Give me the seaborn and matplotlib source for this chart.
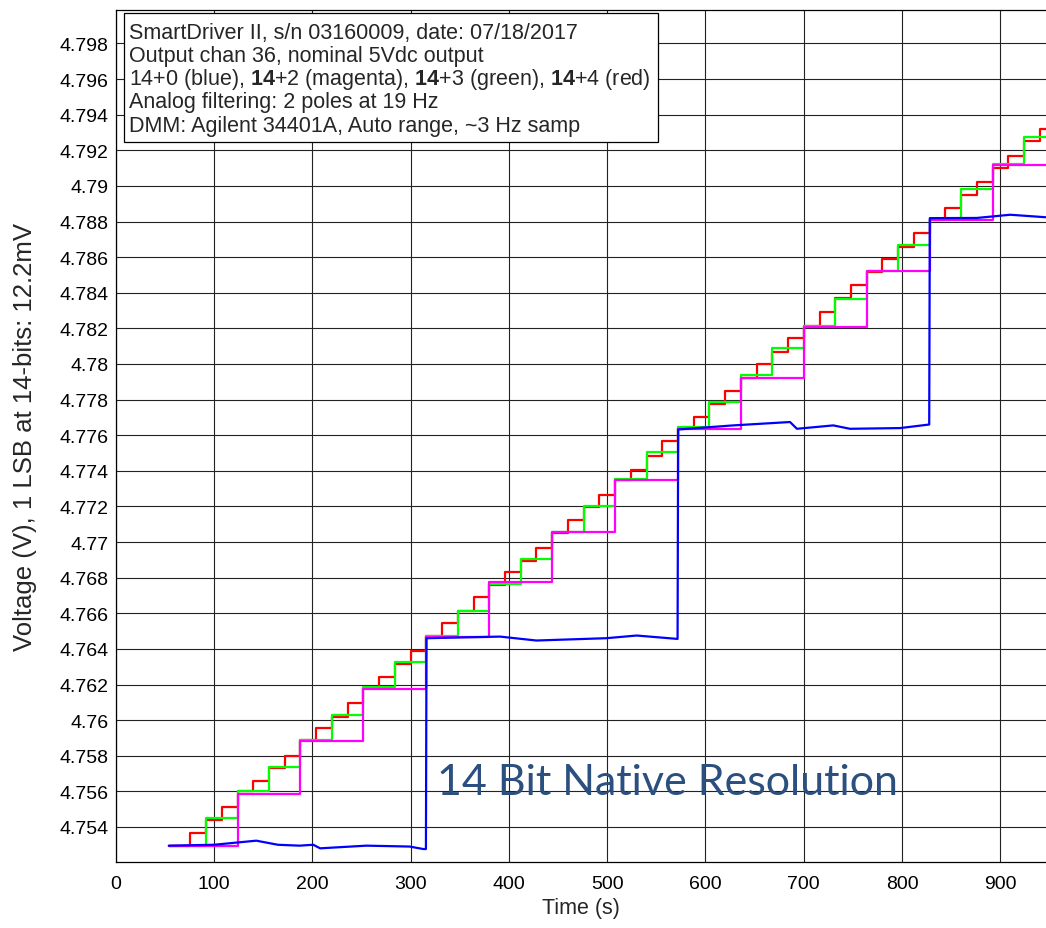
import numpy as np
import pandas as pd
import matplotlib
matplotlib.use("Agg")
import matplotlib.pyplot as plt
from matplotlib.patches import Rectangle
from matplotlib.ticker import FuncFormatter, MultipleLocator
import seaborn as sns

# step times / levels (s, V)
red_t = [54, 76, 92, 108, 124, 140, 156, 172, 188, 204, 220, 236, 252, 268, 284, 300,
         316, 332, 348, 364, 380, 396, 412, 428, 444, 460, 476, 492, 508, 524, 540, 556,
         572, 588, 604, 620, 636, 652, 668, 684, 700, 716, 732, 748, 764, 780, 796, 812,
         828, 844, 860, 876, 892, 908, 924, 940, 946]
red_v = [4.75295, 4.75366, 4.7544, 4.7551, 4.7560, 4.7566, 4.7573, 4.7580, 4.7589, 4.75956,
         4.7602, 4.76095, 4.7618, 4.76244, 4.76316, 4.7639, 4.7647, 4.76546, 4.7661, 4.7669,
         4.76756, 4.76834, 4.76896, 4.76967, 4.77052, 4.77125, 4.77196, 4.77265, 4.77346,
         4.77407, 4.77486, 4.77565, 4.7764, 4.77702, 4.77776, 4.77851, 4.7792, 4.78001,
         4.78067, 4.78146, 4.78216, 4.7829, 4.7837, 4.78441, 4.78516, 4.78591, 4.78657,
         4.78735, 4.7881, 4.78876, 4.7895, 4.79022, 4.791, 4.79168, 4.7925, 4.79321, 4.79321]

green_t = [54, 92, 124, 156, 188, 220, 252, 284, 316, 348, 380, 412, 444, 476, 508, 540,
           572, 604, 636, 668, 700, 732, 764, 796, 828, 860, 892, 924, 946]
green_v = [4.75295, 4.7545, 4.7560, 4.75735, 4.75889, 4.76029, 4.76185, 4.76325, 4.76475,
           4.76615, 4.76765, 4.76906, 4.77059, 4.77205, 4.77355, 4.77505, 4.77645, 4.77786,
           4.77939, 4.78089, 4.78216, 4.78366, 4.7852, 4.7867, 4.78816, 4.7898, 4.79125,
           4.79275, 4.79275]

mag_t = [54, 124, 188, 252, 316, 380, 444, 508, 572, 636, 700, 764, 828, 892, 946]
mag_v = [4.75295, 4.75585, 4.75881, 4.76175, 4.76466, 4.76775, 4.77056, 4.77346, 4.77636,
         4.77921, 4.78207, 4.7852, 4.78806, 4.79115, 4.79115]

blue_t = [54, 100, 143, 165, 187, 201, 208, 255, 299, 313, 315.6, 316.2, 391, 428, 499, 530,
          571.6, 572.2, 628, 686, 693, 730, 747, 798, 827.6, 828.2, 876, 910, 946]
blue_v = [4.75295, 4.7530, 4.75323, 4.7530, 4.75295, 4.7530, 4.7528, 4.75295, 4.7529,
          4.75276, 4.75276, 4.7646, 4.76469, 4.76447, 4.7646, 4.76475, 4.76456, 4.77632,
          4.77655, 4.77674, 4.77636, 4.77655, 4.77636, 4.7764, 4.7766, 4.78819, 4.7882,
          4.78838, 4.78824]

info_lines = [
    "SmartDriver II, s/n 03160009, date: 07/18/2017",
    "Output chan 36, nominal 5Vdc output",
    r"14+0 (blue), $\mathbf{14}$+2 (magenta), $\mathbf{14}$+3 (green), $\mathbf{14}$+4 (red)",
    "Analog filtering: 2 poles at 19 Hz",
    "DMM: Agilent 34401A, Auto range, ~3 Hz samp",
]

sns.set_style("white")
plt.rcParams["font.family"] = ["Liberation Sans", "DejaVu Sans"]
plt.rcParams["mathtext.fontset"] = "custom"
plt.rcParams["mathtext.rm"] = "Liberation Sans"
plt.rcParams["mathtext.bf"] = "Liberation Sans:bold"

fig = plt.figure(figsize=(10.46, 9.29), dpi=100)
ax = fig.add_axes([0.1106, 0.071, 0.8894, 0.9172])

# red underneath, blue on top
sns.lineplot(x=red_t, y=red_v, ax=ax, color="#ff0000", lw=1.6,
             drawstyle="steps-post", estimator=None, zorder=3)
sns.lineplot(x=green_t, y=green_v, ax=ax, color="#00ff00", lw=1.6,
             drawstyle="steps-post", estimator=None, zorder=4)
sns.lineplot(x=mag_t, y=mag_v, ax=ax, color="#ff00ff", lw=1.6,
             drawstyle="steps-post", estimator=None, zorder=5)
sns.lineplot(x=blue_t, y=blue_v, ax=ax, color="#0000ff", lw=1.6,
             estimator=None, zorder=6)

ax.set_xlim(0, 946.4)
ax.set_ylim(4.75203, 4.79988)
ax.xaxis.set_major_locator(MultipleLocator(100))
ax.yaxis.set_major_locator(MultipleLocator(0.002))
ax.yaxis.set_major_formatter(FuncFormatter(lambda v, p: f"{v:.3f}".rstrip("0").rstrip(".")))
ax.xaxis.set_major_formatter(FuncFormatter(lambda v, p: f"{v:.0f}"))
ax.grid(True, color="#222222", lw=0.8, zorder=1)
ax.set_axisbelow(True)
for s in ["left", "bottom", "top"]:
    ax.spines[s].set_color("black")
    ax.spines[s].set_linewidth(0.9)
ax.spines["right"].set_visible(False)
ax.tick_params(axis="both", direction="in", length=5, labelsize=14, colors="black")
ax.tick_params(axis="y", pad=5)
ax.tick_params(axis="x", pad=9)

ax.set_xlabel("Time (s)", fontsize=15.5, labelpad=4)
ax.set_ylabel("Voltage (V), 1 LSB at 14-bits: 12.2mV", fontsize=18.5)
ax.yaxis.set_label_coords(-0.085, 0.5)

ax.text(327, 4.75653, "14 Bit Native Resolution", fontsize=31, color="#2b4f7e",
        family=["Lato", "DejaVu Sans"], va="center", ha="left", zorder=8)

# info box, upper left
box = Rectangle((124 / 1046, 1 - 143 / 929), (658 - 124) / 1046, (143 - 14) / 929,
                transform=fig.transFigure, facecolor="white", edgecolor="black",
                lw=0.9, zorder=9)
fig.add_artist(box)
for i, line in enumerate(info_lines):
    fig.text(129 / 1046, 1 - (33 + 23.3 * i) / 929, line, fontsize=15.5,
             va="center", ha="left", zorder=10)

plt.savefig("out.png", dpi=100)
